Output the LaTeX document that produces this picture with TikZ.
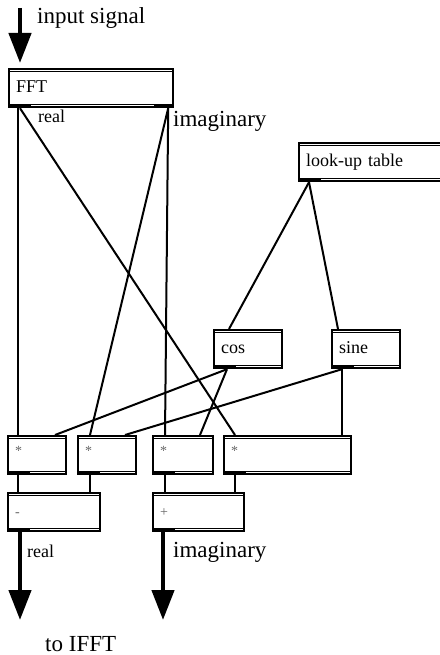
\documentclass[tikz,border=0pt]{standalone}
\usepackage{fontspec}
\setmainfont{Liberation Serif}
\usepackage{tikz}
\usetikzlibrary{arrows.meta}
\usetikzlibrary{calc}

\tikzset{
  objbox/.style={draw, line width=2.2pt, anchor=north west, inner xsep=7pt, inner ysep=0pt,
    text width=#1, minimum height=38pt, text height=12pt, text depth=4pt, align=left,
    font=\fontsize{18}{21}\selectfont},
  optxt/.style={text=black!60, font=\fontsize{14}{16}\selectfont},
  wire/.style={line width=2pt},
  inner line/.style={line width=1.1pt},
  bigarrow/.style={line width=4.5pt, -{Triangle[length=30pt,width=22pt]}},
  txtbig/.style={anchor=base west, inner sep=0pt, font=\fontsize{23}{27}\selectfont},
  txtsmall/.style={anchor=base west, inner sep=0pt, font=\fontsize{18}{21}\selectfont}
}

\begin{document}
\begin{tikzpicture}[x=1pt,y=1pt,yscale=-1,xscale=1]
\useasboundingbox (0,0) rectangle (439,655);

%Shape: Boxes
\node (fft) [objbox=150pt] at (8,68) {FFT};
\node (lut) [objbox=136pt] at (298,142) {look-up table};
\node (cos) [objbox=54pt] at (213,329) {cos};
\node (sine) [objbox=54pt] at (331,329) {sine};
\node (mulA) [objbox=44pt] at (7,435) {\textcolor{black!60}{\fontsize{14}{16}\selectfont\raisebox{4pt}{*}}};
\node (mulB) [objbox=44pt] at (77,435) {\textcolor{black!60}{\fontsize{14}{16}\selectfont\raisebox{4pt}{*}}};
\node (mulC) [objbox=46pt] at (152,435) {\textcolor{black!60}{\fontsize{14}{16}\selectfont\raisebox{4pt}{*}}};
\node (mulD) [objbox=113pt] at (223,435) {\textcolor{black!60}{\fontsize{14}{16}\selectfont\raisebox{4pt}{*}}};
\node (sub) [objbox=78pt] at (7,492) {\textcolor{black!60}{\fontsize{14}{16}\selectfont -}};
\node (add) [objbox=77pt] at (152,492) {\textcolor{black!60}{\fontsize{14}{16}\selectfont +}};

%Inner lines and outlet bars of the boxes
\foreach \b in {fft,lut,cos,sine,mulA,mulB,mulC,mulD,sub,add} {
  \draw[inner line] ($(\b.north west)+(0,3.5)$) -- ($(\b.north east)+(0,3.5)$);
  \draw[inner line] ($(\b.south west)+(0,-4)$) -- ($(\b.south east)+(0,-4)$);
  \fill ($(\b.south west)+(0,-4)$) rectangle ($(\b.south west)+(23,0)$);
}
\fill ($(fft.south east)+(-20,-4)$) rectangle (fft.south east);

%Free ends of the arrows
\coordinate (in) at (20,8);
\coordinate (outR) at (20,620);
\coordinate (outI) at (163,620);

%Straight Lines
\draw[bigarrow, shorten >=5pt] (in) -- ([xshift=12pt]fft.north west);
\draw[wire] ([xshift=10pt]fft.south west) -- ([xshift=11pt]mulA.north west);
\draw[wire] ([xshift=12pt]fft.south west) -- ([xshift=12pt]mulD.north west);
\draw[wire] ([xshift=-6pt]fft.south east) -- ([xshift=13pt]mulC.north west);
\draw[wire] ([xshift=-6pt]fft.south east) -- ([xshift=13pt]mulB.north west);
\draw[wire] ([xshift=11pt]lut.south west) -- ([xshift=16pt]cos.north west);
\draw[wire] ([xshift=11pt]lut.south west) -- ([xshift=7pt]sine.north west);
\draw[wire] ([xshift=14pt]cos.south west) -- ([xshift=48pt]mulA.north west);
\draw[wire] ([xshift=14pt]cos.south west) -- ([xshift=48pt]mulC.north west);
\draw[wire] ([xshift=11pt]sine.south west) -- ([xshift=48pt]mulB.north west);
\draw[wire] ([xshift=11pt]sine.south west) -- ([xshift=119pt]mulD.north west);
\draw[wire] ([xshift=11pt]mulA.south west) -- ([xshift=11pt]sub.north west);
\draw[wire] ([xshift=13pt]mulB.south west) -- ([xshift=83pt]sub.north west);
\draw[wire] ([xshift=13pt]mulC.south west) -- ([xshift=13pt]add.north west);
\draw[wire] ([xshift=12pt]mulD.south west) -- ([xshift=83pt]add.north west);
\draw[bigarrow] ([xshift=13pt]sub.south west) -- (outR);
\draw[bigarrow] ([xshift=11pt]add.south west) -- (outI);

% Text Node
\node (lbinput) [txtbig] at (37,24) {input signal};
% Text Node
\node (lbreA) [txtsmall] at (38,123) {real};
% Text Node
\node (lbimA) [txtbig] at (173,127) {imaginary};
% Text Node
\node (lbreB) [txtsmall] at (27,557) {real};
% Text Node
\node (lbimB) [txtbig] at (173,557) {imaginary};
% Text Node
\node (lbifft) [txtbig] at (45,651) {to IFFT};

\end{tikzpicture}
\end{document}
